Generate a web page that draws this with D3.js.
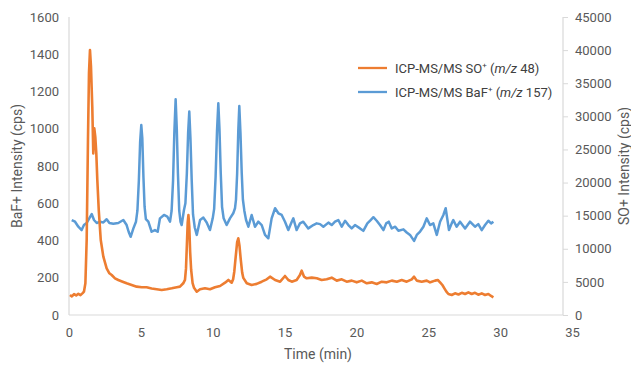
<!DOCTYPE html>
<html>
<head>
<meta charset="utf-8">
<script src="https://cdn.jsdelivr.net/npm/d3@7"></script>
<style>
  body { margin: 0; background: #fff; }
  text { font-family: Roboto, "Noto Sans", sans-serif; }
</style>
</head>
<body>
<div id="chart"></div>
<script>
// BaF+ (m/z 157), left axis, cps
const bafTime = [0.19, 0.42, 0.65, 0.88, 1.04, 1.23, 1.41, 1.58, 1.74, 1.93, 2.16, 2.39, 2.62, 2.81, 3.08, 3.43, 3.78, 4.01, 4.15, 4.29, 4.48, 4.66, 4.76, 4.86, 4.95, 5.03, 5.1, 5.18, 5.26, 5.35, 5.52, 5.75, 5.98, 6.17, 6.33, 6.61, 6.84, 7.03, 7.14, 7.24, 7.33, 7.42, 7.5, 7.58, 7.67, 7.76, 7.84, 8.0, 8.1, 8.2, 8.29, 8.37, 8.45, 8.54, 8.63, 8.75, 8.89, 9.12, 9.35, 9.58, 9.81, 10.0, 10.1, 10.2, 10.3, 10.39, 10.47, 10.56, 10.65, 10.76, 10.97, 11.2, 11.43, 11.55, 11.62, 11.7, 11.78, 11.85, 11.93, 12.02, 12.1, 12.2, 12.32, 12.48, 12.71, 12.94, 13.17, 13.41, 13.64, 13.87, 14.1, 14.34, 14.57, 14.8, 15.03, 15.26, 15.5, 15.61, 15.84, 16.07, 16.3, 16.65, 17.0, 17.23, 17.47, 17.7, 18.05, 18.28, 18.51, 18.74, 18.98, 19.21, 19.44, 19.67, 19.9, 20.25, 20.48, 20.76, 20.99, 21.18, 21.41, 21.64, 21.88, 22.07, 22.25, 22.46, 22.7, 22.92, 23.27, 23.5, 23.73, 24.01, 24.2, 24.43, 24.66, 24.89, 25.12, 25.35, 25.59, 25.82, 26.05, 26.21, 26.44, 26.63, 26.74, 26.97, 27.21, 27.56, 27.9, 28.25, 28.48, 28.72, 28.95, 29.18, 29.37, 29.53];
const bafValue = [510, 501, 474, 456, 483, 494, 519, 542, 510, 494, 501, 497, 514, 494, 490, 494, 510, 483, 447, 420, 465, 501, 560, 720, 930, 1020, 950, 740, 580, 515, 501, 447, 456, 447, 519, 537, 528, 501, 560, 720, 980, 1158, 1000, 760, 560, 500, 483, 564, 600, 760, 980, 1092, 950, 720, 540, 470, 430, 510, 523, 497, 456, 519, 570, 740, 990, 1137, 1000, 760, 580, 519, 483, 519, 546, 573, 620, 760, 990, 1122, 980, 761, 620, 560, 510, 474, 537, 474, 501, 483, 430, 412, 519, 573, 546, 537, 501, 456, 501, 519, 456, 492, 501, 465, 483, 492, 488, 474, 496, 483, 501, 510, 474, 506, 483, 465, 483, 465, 452, 492, 510, 525, 506, 483, 456, 492, 501, 465, 474, 452, 460, 443, 430, 398, 430, 448, 474, 519, 483, 492, 430, 501, 537, 573, 456, 492, 510, 474, 501, 465, 501, 474, 488, 456, 483, 506, 492, 501];

// SO+ (m/z 48), right axis, cps
const soTime = [0.07, 0.2, 0.35, 0.5, 0.65, 0.8, 0.95, 1.04, 1.14, 1.23, 1.32, 1.39, 1.46, 1.53, 1.62, 1.69, 1.76, 1.83, 1.9, 1.97, 2.07, 2.21, 2.39, 2.62, 2.81, 2.97, 3.2, 3.43, 3.73, 4.01, 4.36, 4.71, 5.06, 5.4, 5.75, 6.1, 6.45, 6.8, 7.15, 7.5, 7.72, 7.95, 8.07, 8.14, 8.2, 8.26, 8.31, 8.37, 8.43, 8.5, 8.6, 8.7, 8.89, 9.12, 9.46, 9.81, 10.16, 10.51, 10.86, 11.09, 11.32, 11.42, 11.5, 11.6, 11.7, 11.78, 11.86, 11.95, 12.05, 12.13, 12.37, 12.71, 13.06, 13.41, 13.76, 13.99, 14.34, 14.69, 15.03, 15.26, 15.5, 15.84, 16.07, 16.19, 16.35, 16.54, 16.89, 17.24, 17.58, 17.93, 18.28, 18.63, 18.98, 19.32, 19.67, 20.02, 20.37, 20.72, 21.06, 21.41, 21.76, 22.11, 22.46, 22.81, 23.15, 23.5, 23.85, 24.01, 24.2, 24.54, 24.89, 25.12, 25.24, 25.47, 25.66, 25.82, 25.98, 26.12, 26.26, 26.4, 26.63, 26.86, 27.1, 27.33, 27.56, 27.79, 28.02, 28.25, 28.48, 28.72, 28.95, 29.18, 29.37, 29.53];
const soValue = [3020, 2800, 3150, 2950, 3200, 3000, 3300, 3520, 4790, 11330, 26400, 36500, 40000, 37500, 31450, 24400, 28190, 26900, 24400, 20400, 15860, 11325, 8800, 7050, 6300, 6040, 5540, 5285, 5030, 4790, 4530, 4280, 4200, 4200, 4000, 3880, 3775, 3880, 4030, 4200, 4280, 4790, 5290, 7000, 10500, 14000, 15100, 13300, 9500, 6800, 4800, 4100, 3520, 3880, 4030, 3880, 4180, 4380, 4880, 5290, 4880, 5400, 6540, 8800, 11000, 11580, 10500, 8400, 6400, 5600, 4790, 4530, 4700, 5030, 5390, 5790, 5290, 5030, 5890, 5290, 5030, 5285, 6040, 6690, 5800, 5540, 5640, 5540, 5285, 5390, 5640, 5190, 5390, 5030, 5190, 4930, 5190, 4790, 4930, 4680, 5030, 4930, 5190, 5030, 5285, 5030, 5390, 5790, 5190, 5030, 5190, 4930, 5030, 5190, 5285, 4930, 4530, 4030, 3520, 3170, 3020, 3270, 3100, 3350, 3170, 3420, 3170, 3350, 3070, 3270, 3020, 3170, 2870, 2670];

const xTicks = [0, 5, 10, 15, 20, 25, 30, 35];
const leftTicks = [0, 200, 400, 600, 800, 1000, 1200, 1400, 1600];
const rightTicks = [0, 5000, 10000, 15000, 20000, 25000, 30000, 35000, 40000, 45000];

const width = 631, height = 365;
const plotL = 69, plotR = 563, plotT = 17, plotB = 315;
const orange = '#ed7d31', blue = '#5b9bd5';
const axisGrey = '#d9d9d9', labelGrey = '#595959';

const svg = d3.select('#chart').append('svg')
  .attr('width', width)
  .attr('height', height);

const x = d3.scaleLinear().domain([0, 35]).range([plotL, 572]);
const yL = d3.scaleLinear().domain([0, 1600]).range([plotB, plotT]);
const yR = d3.scaleLinear().domain([0, 45000]).range([plotB, plotT]);

// axes
const gx = svg.append('g').attr('transform', 'translate(0,' + plotB + ')')
  .call(d3.axisBottom(x).tickValues(xTicks).tickSize(0).tickPadding(13).tickFormat(d3.format('d')));
const gl = svg.append('g').attr('transform', 'translate(' + plotL + ',0)')
  .call(d3.axisLeft(yL).tickValues(leftTicks).tickSize(0).tickPadding(10).tickFormat(d3.format('d')));
const gr = svg.append('g').attr('transform', 'translate(' + plotR + ',0)')
  .call(d3.axisRight(yR).tickValues(rightTicks).tickSize(5).tickPadding(7).tickFormat(d3.format('d')));

[gx, gl, gr].forEach(g => {
  g.select('.domain').remove();
  g.selectAll('.tick line').attr('stroke', axisGrey);
  g.selectAll('.tick text').attr('fill', labelGrey).style('font-size', '13px')
    .style('font-family', 'Roboto, sans-serif');
});

// axis lines
svg.append('line').attr('x1', plotL).attr('x2', plotL).attr('y1', plotT).attr('y2', plotB)
  .attr('stroke', axisGrey).attr('stroke-width', 1.2);
svg.append('line').attr('x1', plotR).attr('x2', plotR).attr('y1', plotT).attr('y2', plotB)
  .attr('stroke', axisGrey).attr('stroke-width', 1.2);
svg.append('line').attr('x1', plotL).attr('x2', plotR).attr('y1', plotB).attr('y2', plotB)
  .attr('stroke', axisGrey).attr('stroke-width', 1.2);

// series
const bafLine = d3.line().x((d, i) => x(bafTime[i])).y(d => yL(d));
const soLine = d3.line().x((d, i) => x(soTime[i])).y(d => yR(d));

svg.append('path').datum(bafValue)
  .attr('d', bafLine).attr('fill', 'none')
  .attr('stroke', blue).attr('stroke-width', 2.5).attr('stroke-linejoin', 'round');
svg.append('path').datum(soValue)
  .attr('d', soLine).attr('fill', 'none')
  .attr('stroke', orange).attr('stroke-width', 2.6).attr('stroke-linejoin', 'round');

// axis titles
svg.append('text').attr('x', 318).attr('y', 355).attr('text-anchor', 'middle')
  .attr('dominant-baseline', 'middle').attr('fill', labelGrey).style('font-size', '14px')
  .text('Time (min)');
svg.append('text').attr('transform', 'translate(18,166) rotate(-90)').attr('text-anchor', 'middle')
  .attr('dominant-baseline', 'middle').attr('fill', labelGrey).style('font-size', '14px')
  .text('BaF+ Intensity (cps)');
svg.append('text').attr('transform', 'translate(625,166) rotate(-90)').attr('text-anchor', 'middle')
  .attr('dominant-baseline', 'middle').attr('fill', labelGrey).style('font-size', '14px')
  .text('SO+ Intensity (cps)');

// legend
const legend = [
  { color: orange, ion: 'SO', mz: '48', y: 68 },
  { color: blue, ion: 'BaF', mz: '157', y: 92 }
];
legend.forEach(l => {
  svg.append('line').attr('x1', 358).attr('x2', 387).attr('y1', l.y).attr('y2', l.y)
    .attr('stroke', l.color).attr('stroke-width', 2.3);
  const t = svg.append('text').attr('x', 395).attr('y', l.y + 5)
    .attr('fill', '#404040').style('font-size', '13px');
  t.append('tspan').text('ICP-MS/MS ' + l.ion);
  t.append('tspan').attr('dy', -5).style('font-size', '8px').text('+');
  t.append('tspan').attr('dy', 5).text(' (');
  t.append('tspan').style('font-style', 'italic').text('m/z');
  t.append('tspan').text(' ' + l.mz + ')');
});
</script>
</body>
</html>
